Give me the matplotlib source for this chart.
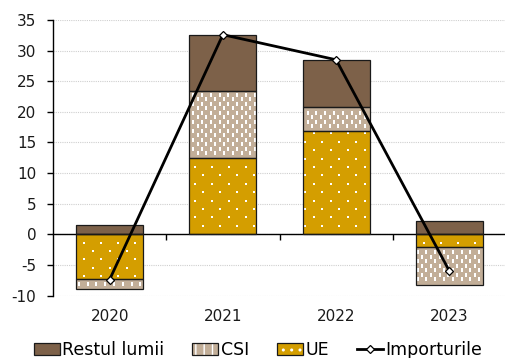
import matplotlib
matplotlib.use('Agg')
import matplotlib.pyplot as plt
import numpy as np
from matplotlib.patches import Patch
from matplotlib.lines import Line2D
from matplotlib.legend_handler import HandlerTuple

# contributions by region (stacked) and total imports
years = ['2020', '2021', '2022', '2023']
ue = [-7.3, 12.4, 16.9, -2.0]
csi = [-1.7, 11.0, 3.9, -6.3]
restul = [1.5, 9.2, 7.7, 2.1]
importuri = [-7.4, 32.6, 28.5, -6.0]

col_restul = '#7D6149'
col_csi = '#C2AE98'
col_ue = '#D49E00'

plt.rcParams['font.family'] = ['DejaVu Sans']
plt.rcParams['hatch.color'] = 'white'
plt.rcParams['axes.unicode_minus'] = False

W, H = 505, 358
fig = plt.figure(figsize=(W / 100, H / 100), dpi=100)
ax_l, ax_t, ax_r, ax_b = 53, 20, 506, 295.5
ax = fig.add_axes([ax_l / W, 1 - ax_b / H, (ax_r - ax_l) / W, (ax_b - ax_t) / H])

x = np.arange(len(years))
ymin, ymax = -10, 35
ax.set_xlim(-0.5, len(years) - 0.5)
ax.set_ylim(ymin, ymax)
px_x = (ax_r - ax_l) / len(years)
px_y = (ax_b - ax_t) / (ymax - ymin)


def texture(rect, dx, dy, shift, stagger_rows, marker, size):
    bb = rect.get_bbox()
    x0, x1 = sorted([bb.x0, bb.x1])
    y0, y1 = sorted([bb.y0, bb.y1])
    dx, dy = dx / px_x, dy / px_y
    cols = np.arange(np.floor(x0 / dx) - 1, np.ceil(x1 / dx) + 2)
    rows = np.arange(np.floor(y0 / dy) - 1, np.ceil(y1 / dy) + 2)
    cc, rr = np.meshgrid(cols, rows)
    px = cc * dx
    py = rr * dy
    if stagger_rows:
        px = px + (rr % 2) * shift / px_x
    else:
        py = py + (cc % 2) * shift / px_y
    mx, my = 1.2 / px_x, 1.5 / px_y
    keep = (px > x0 + mx) & (px < x1 - mx) & (py > y0 + my) & (py < y1 - my)
    sc = ax.scatter(px[keep], py[keep], marker=marker, s=size, c='white',
                    linewidths=0, zorder=3)
    sc.set_clip_path(rect)


dash = [(-0.16, -0.5), (0.16, -0.5), (0.16, 0.5), (-0.16, 0.5), (-0.16, -0.5)]

pos_bottom = np.zeros(len(years))
neg_bottom = np.zeros(len(years))
for vals, col, kind in [(ue, col_ue, 'dots'), (csi, col_csi, 'dash'), (restul, col_restul, None)]:
    vals = np.array(vals)
    bottom = np.where(vals >= 0, pos_bottom, neg_bottom)
    bars = ax.bar(x, vals, 0.59, bottom=bottom, color=col, edgecolor='none', zorder=2)
    ax.bar(x, vals, 0.59, bottom=bottom, fill=False, edgecolor='#1a1a1a', linewidth=0.9, zorder=4)
    for r in bars:
        if kind == 'dots':
            texture(r, 17, 8.4, 8.5, True, 's', 2.6)
        elif kind == 'dash':
            texture(r, 4.4, 9, 4.5, False, dash, 11)
    pos_bottom = pos_bottom + np.where(vals >= 0, vals, 0)
    neg_bottom = neg_bottom + np.where(vals < 0, vals, 0)

ax.plot(x, importuri, color='black', linewidth=2.0, marker='D', markersize=4.5,
        markerfacecolor='white', markeredgecolor='black', markeredgewidth=0.9, zorder=5)

# axes styling
ax.set_yticks(np.arange(ymin, ymax + 1, 5))
ax.grid(axis='y', color='#CFCFCF', linestyle=(0, (1, 1)), linewidth=0.8)
ax.set_axisbelow(True)
for s in ['top', 'right']:
    ax.spines[s].set_visible(False)
ax.spines['bottom'].set_position(('data', 0))
ax.spines['bottom'].set_linewidth(1.0)
ax.spines['left'].set_linewidth(1.0)
ax.tick_params(axis='y', direction='out', length=4, width=1.0, pad=8,
               labelsize=11, labelcolor='#1a1a1a')
ax.set_xticks([])
ax.set_xticks(x[:-1] + 0.5, minor=True)
ax.tick_params(axis='x', which='minor', direction='out', length=4.5, width=1.0)
ax.tick_params(axis='x', which='major', length=0)

for i, yr in enumerate(years):
    ax.annotate(yr, xy=(i, 0), xycoords=('data', 'axes fraction'), xytext=(0, -15),
                textcoords='offset points', ha='center', va='center', fontsize=11,
                color='#1a1a1a')

# legend
edge = dict(fill=False, edgecolor='#1a1a1a', linewidth=0.9)
h_restul = Patch(facecolor=col_restul, edgecolor='#1a1a1a', linewidth=0.9)
h_csi = (Patch(facecolor=col_csi, hatch='||'), Patch(**edge))
h_ue = (Patch(facecolor=col_ue, hatch='..'), Patch(**edge))
h_imp = Line2D([], [], color='black', linewidth=2.0, marker='D', markersize=4.5,
               markerfacecolor='white', markeredgecolor='black', markeredgewidth=0.9)
fig.legend([h_restul, h_csi, h_ue, h_imp], ['Restul lumii', 'CSI', 'UE', 'Importurile'],
           loc='center', bbox_to_anchor=(258 / W, 8 / H), ncol=4, frameon=False,
           fontsize=12.5, handlelength=1.5, handleheight=0.65, handletextpad=0.15,
           columnspacing=1.6, borderpad=0, borderaxespad=0,
           handler_map={tuple: HandlerTuple(ndivide=1, pad=0)})

fig.savefig('out.png', dpi=100)
